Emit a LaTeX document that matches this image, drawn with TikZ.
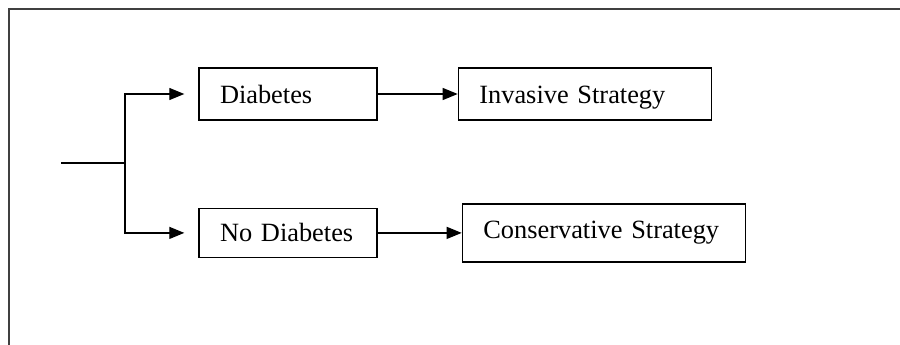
\documentclass[tikz,border=0pt]{standalone}
\usepackage{fontspec}
\setmainfont{Liberation Serif}
\usetikzlibrary{arrows.meta,positioning}
\tikzset{
  signal/.style={-{Triangle[length=0.3cm,width=0.24cm]}, line width=0.7pt, draw=black},
  choice/.style={draw=black, line width=0.8pt, rectangle, inner xsep=0.42cm, inner ysep=0pt, align=left, text height=0.36cm, text depth=0cm, font=\fontsize{15}{18}\selectfont, fill=none},
  frame/.style={draw=black!75, line width=0.6pt}
}
\begin{document}
\begin{tikzpicture}[node distance=1.6cm]
  \useasboundingbox (0,0) rectangle (18,-6.9);
  \draw[frame] (0.18,-6.9) -- (0.18,-0.18) -- (18,-0.18);

  \coordinate (start) at (1.22,-3.26);
  \coordinate (split) at (2.5,-3.26);
  \node[choice, text width=2.72cm, minimum height=1.04cm] (diab) at (5.76,-1.88) {Diabetes};
  \node[choice, text width=4.22cm, minimum height=1.04cm, right=of diab] (invasive) {Invasive Strategy};
  \node[choice, text width=2.72cm, minimum height=0.98cm, below=1.74cm of diab] (nodiab) {No Diabetes};
  \node[choice, text width=4.82cm, minimum height=1.16cm, text depth=0.12cm, right=1.68cm of nodiab] (conserv) {Conservative Strategy};

  \draw[line width=0.7pt] (start) -- (split);
  \draw[signal] (split) |- ([xshift=-0.28cm]diab.west);
  \draw[signal] (split) |- ([xshift=-0.28cm]nodiab.west);
  \draw[signal] (diab) -- (invasive);
  \draw[signal] (nodiab) -- (conserv);
\end{tikzpicture}
\end{document}
